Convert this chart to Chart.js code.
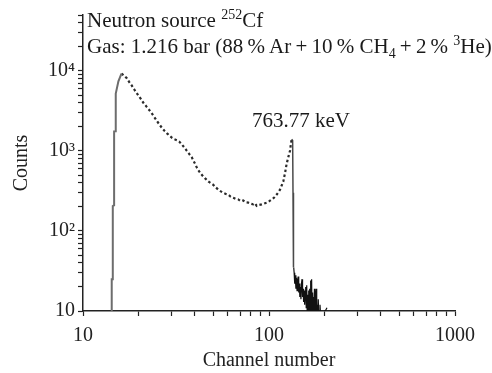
<!DOCTYPE html>
<html>
<head>
<meta charset="UTF-8">
<title>Neutron source 252Cf spectrum</title>
<script src="https://cdn.jsdelivr.net/npm/chart.js"></script>
<style>
  body { margin: 0; background: #fff; }
  .wrap { position: relative; width: 492px; height: 373px; }
  .note { position: absolute; font-family: 'Liberation Serif', 'Times New Roman', serif; font-size: 21px; color: #1a1a1a; white-space: nowrap; }
  .note sup, .note sub { font-size: 14px; line-height: 0; }
</style>
</head>
<body>
<div class="wrap">
  <canvas id="spectrum" width="492" height="373"></canvas>
  <div class="note" style="left:87px; top:7px; line-height:26px">Neutron source <sup>252</sup>Cf<br>Gas: 1.216 bar (88&thinsp;% Ar&thinsp;+&thinsp;10&thinsp;% CH<sub>4</sub>&thinsp;+&thinsp;2&thinsp;% <sup>3</sup>He)</div>
  <div class="note" style="left:252px; top:110px; line-height:20px">763.77 keV</div>
</div>
<script>
  // Rising edge of the spectrum (solid grey line)
  const riseChannels = [14.25, 14.27, 14.45, 14.46, 14.68, 14.70, 14.99, 15.0, 15.5, 16.1];
  const riseCounts = [10, 25, 25, 205, 210, 1750, 1760, 5200, 7400, 9270];

  // Main body of the spectrum, drawn dotted
  const bodyChannels = [16.1, 16.6, 17.2, 17.7, 18.3, 18.8, 19.3, 19.9, 20.5, 21.2, 22.0, 22.7, 23.4, 24.2, 25.0,
    25.8, 26.6, 27.4, 28.3, 29.2, 30.1, 31.0, 32.0, 33.0, 33.9, 35.0, 36.1, 37.2, 38.4, 39.2, 40.0, 40.8, 41.7,
    43.0, 44.4, 45.8, 47.2, 48.7, 50.2, 51.8, 53.4, 55.1, 56.8, 58.6, 60.4, 62.3, 64.3, 66.3, 68.4, 70.5, 72.7,
    75.0, 77.4, 79.8, 82.3, 84.0, 85.9, 88.6, 91.4, 94.3, 97.2, 100.3, 103.4, 106.7, 110.0, 112.3, 114.6, 117.0,
    119.4, 120.6, 121.9, 123.2, 124.5, 125.7, 127.0, 128.4, 129.7, 131.0, 132.4];
  const bodyCounts = [9270, 8800, 8100, 7300, 6560, 5950, 5400, 4900, 4430, 3950, 3560, 3250, 2960, 2640, 2355,
    2130, 1935, 1790, 1660, 1550, 1462, 1400, 1362, 1300, 1216, 1110, 1008, 920, 838, 760, 694, 630, 575,
    520, 477, 445, 415, 395, 377, 350, 328, 312, 299, 290, 285, 268, 260, 252, 248, 236, 240,
    228, 226, 219, 215, 222, 206, 212, 215, 221, 226, 236, 248, 262, 285, 305, 328, 370,
    415, 470, 525, 610, 694, 760, 838, 920, 1008, 1200, 1400];

  // Sharp fall after the 763.77 keV peak
  const dropChannels = [132.4, 134.0, 134.6, 135.0, 135.4, 135.8];
  const dropCounts = [1400, 1350, 300, 80, 45, 35];

  // Noisy tail down to the axis
  const tailChannels = [135.8, 136.5, 137.5, 138.5, 139.5, 140.5, 141.5, 142.5, 143.5, 144.5, 145.5, 146.5, 147.5,
    148.5, 149.5, 150.5, 151.5, 152.5, 153.5, 154.5, 155.5, 156.5, 157.5, 158.5, 159.5, 160.5, 161.5, 162.5,
    163.5, 164.5, 165.5, 166.5, 167.5, 168.5, 169.5, 170.5, 171.5, 172.5, 173.5, 174.5, 175.5, 176.5, 177.5,
    178.5, 179.5, 180.5, 181.5, 182.5, 184, 186, 188, 190, 196, 205];
  const tailCounts = [35, 30, 22, 28, 19, 26, 18, 24, 27, 17, 22, 15, 20,
    14, 22, 25, 15, 19, 13, 18, 12, 17, 20, 11, 21, 9, 16, 8,
    18, 9, 19, 10, 24, 9, 25, 8, 17, 7, 15, 8, 19, 7, 18,
    6, 19, 8, 12, 7, 14, 6, 12, 8, 9, 11];

  // Axis ticks and labels
  const xTicks = [10, 20, 30, 40, 50, 60, 70, 80, 90, 100, 200, 300, 400, 500, 600, 700, 800, 900, 1000];
  const xLabels = { 10: '10', 100: '100', 1000: '1000' };
  const yTicks = [10, 20, 30, 40, 50, 60, 70, 80, 90, 100, 200, 300, 400, 500, 600, 700, 800, 900,
    1000, 2000, 3000, 4000, 5000, 6000, 7000, 8000, 9000, 10000, 20000, 30000, 40000, 50000];
  const yLabels = { 10: '10', 100: '10\u00b2', 1000: '10\u00b3', 10000: '10\u2074' };

  const pairs = (xs, ys) => xs.map((x, i) => ({ x: x, y: ys[i] }));

  const serif = "'Liberation Serif', 'Times New Roman', serif";
  const ink = '#222';

  const ctx = document.getElementById('spectrum').getContext('2d');
  const chart = new Chart(ctx, {
    type: 'line',
    data: {
      datasets: [
        { data: pairs(riseChannels, riseCounts), borderColor: '#6d6d6d', borderWidth: 2, pointRadius: 0 },
        { data: pairs(bodyChannels, bodyCounts), borderColor: '#2a2a2a', borderWidth: 2.2, borderDash: [2.5, 2.5], pointRadius: 0 },
        { data: pairs(dropChannels, dropCounts), borderColor: '#4a4a4a', borderWidth: 1.5, pointRadius: 0 },
        { data: pairs(tailChannels, tailCounts), borderColor: '#111', borderWidth: 1.2, pointRadius: 0 }
      ]
    },
    options: {
      responsive: false,
      animation: false,
      devicePixelRatio: 1,
      layout: { padding: { left: 0, right: 37, top: 15, bottom: 0 } },
      plugins: { legend: { display: false }, tooltip: { enabled: false } },
      scales: {
        x: {
          type: 'logarithmic',
          min: 10,
          max: 1000,
          afterBuildTicks: (scale) => { scale.ticks = xTicks.map(v => ({ value: v })); },
          afterFit: (scale) => { scale.height = 62; },
          border: { display: true, color: ink, width: 1.5 },
          grid: { drawOnChartArea: false, drawTicks: true, tickLength: 5, tickColor: ink, tickWidth: 1.2 },
          ticks: {
            autoSkip: false, maxRotation: 0, padding: 8, color: ink,
            font: { family: serif, size: 20 },
            callback: (value) => xLabels[value] || ''
          },
          title: { display: true, text: 'Channel number', color: ink, font: { family: serif, size: 20 }, padding: { top: 0, bottom: 0 } }
        },
        y: {
          type: 'logarithmic',
          min: 10,
          max: 50000,
          afterBuildTicks: (scale) => { scale.ticks = yTicks.map(v => ({ value: v })); },
          afterFit: (scale) => { scale.width = 83; },
          border: { display: true, color: ink, width: 1.5 },
          grid: { drawOnChartArea: false, drawTicks: true, tickLength: 5, tickColor: ink, tickWidth: 1.2 },
          ticks: {
            autoSkip: false, padding: 3, color: ink,
            font: { family: serif, size: 20 },
            callback: (value) => yLabels[value] || ''
          },
          title: { display: true, text: 'Counts', color: ink, font: { family: serif, size: 20 }, padding: { top: 10, bottom: 0 } }
        }
      }
    }
  });
</script>
</body>
</html>
